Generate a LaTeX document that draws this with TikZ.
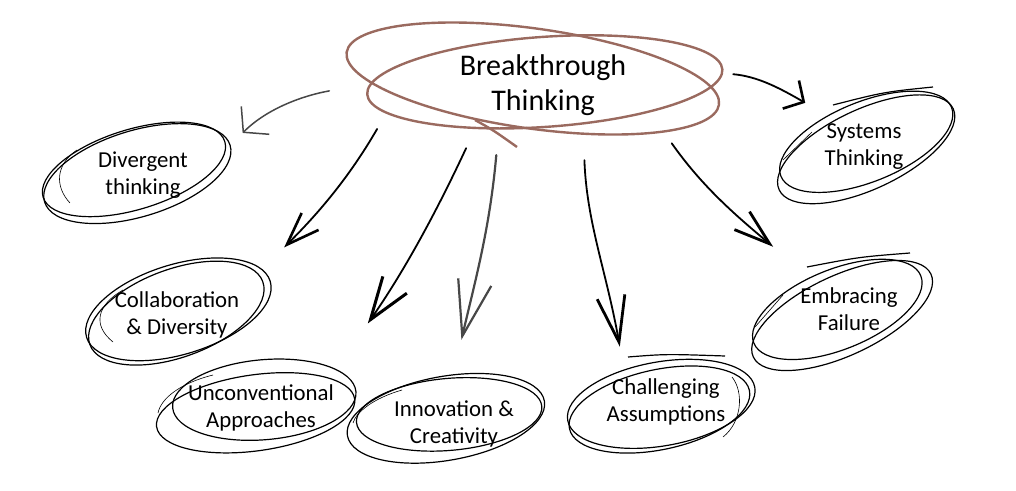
\documentclass[tikz,border=0pt]{standalone}
\usepackage{fontspec}
\setmainfont{Carlito}
\usetikzlibrary{shapes.geometric,arrows.meta}
\definecolor{rust}{HTML}{9A6A5F}
\definecolor{pencil}{HTML}{474747}
\begin{document}
\begin{tikzpicture}[x=1pt,y=1pt,
  idea/.style={ellipse,inner sep=0pt,minimum width=200pt,minimum height=90pt,align=center,font=\fontsize{22.8}{27}\selectfont},
  hub/.style={ellipse,inner sep=0pt,minimum width=360pt,minimum height=95pt,align=center,font=\fontsize{30}{35}\selectfont},
  loop/.style={line width=1.2pt},
  hair/.style={line width=.6pt},
  arr/.style={line width=1.8pt,line cap=round}]
\useasboundingbox (0,0) rectangle (1016,490);
% ideas
\node[hub] (bt) at (543,405) {Breakthrough\\Thinking};
\node[idea] (div) at (143,315) {Divergent\\thinking};
\node[idea] (col) at (177,175) {Collaboration\\\& Diversity};
\node[idea] (unc) at (261,82) {Unconventional\\Approaches};
\node[idea] (inn) at (454,66) {Innovation \&\\Creativity};
\node[idea] (cha) at (666,88) {Challenging\\Assumptions};
\node[idea] (emb) at (849,181) {Embracing\\Failure};
\node[idea] (sys) at (864,343) {Systems\\Thinking};
% scribbled loops
\draw[rust,line width=2.4pt,shift={(bt)},rotate=-8] (-11,5) ellipse[x radius=188pt,y radius=50pt];
\draw[rust,line width=2.4pt,shift={(bt)},rotate=4] (2,3) ellipse[x radius=178pt,y radius=45pt];
\draw[rust,line width=2.4pt,shift={(bt)}] (-68,-35) .. controls (-50,-45) .. (-26,-62);
\draw[loop,shift={(div)},rotate=17] (-7,8) ellipse[x radius=95pt,y radius=40pt];
\draw[loop,shift={(div)},rotate=17] (-5,3) ellipse[x radius=97pt,y radius=43pt];
\draw[hair,shift={(div)}] (-73,-28) .. controls (-88,-12) and (-88,10) .. (-66,25);
\draw[loop,shift={(col)},rotate=17] (3,5) ellipse[x radius=96pt,y radius=45pt];
\draw[loop,shift={(col)},rotate=20] (0,2) ellipse[x radius=92pt,y radius=44pt];
\draw[hair,shift={(col)}] (-64,-27) .. controls (-85,-10) and (-80,10) .. (-54,25);
\draw[loop,shift={(unc)},rotate=5] (4,8) ellipse[x radius=92pt,y radius=40pt];
\draw[loop,shift={(unc)},rotate=8] (-6,-4) ellipse[x radius=100pt,y radius=38pt];
\draw[hair,shift={(unc)}] (-48,33) .. controls (-80,25) and (-100,10) .. (-103,-5);
\draw[loop,shift={(inn)},rotate=5] (-4,10) ellipse[x radius=93pt,y radius=36pt];
\draw[loop,shift={(inn)},rotate=10] (-7,7) ellipse[x radius=100pt,y radius=42pt];
\draw[hair,shift={(inn)}] (-52,34) .. controls (-80,26) and (-98,12) .. (-101,1);
\draw[loop,shift={(cha)},rotate=10] (-5,-1) ellipse[x radius=95pt,y radius=42pt];
\draw[loop,shift={(cha)},rotate=12] (-8,-6) ellipse[x radius=92pt,y radius=40pt];
\draw[hair,shift={(cha)}] (66,25) .. controls (78,10) and (76,-20) .. (57,-35);
\draw[loop,shift={(cha)}] (-38,45) .. controls (0,48) .. (59,46);
\draw[loop,shift={(emb)},rotate=22] (-11,4) ellipse[x radius=90pt,y radius=40pt];
\draw[loop,shift={(emb)},rotate=25] (-9,-3) ellipse[x radius=98pt,y radius=40pt];
\draw[loop,shift={(emb)}] (-42,42) .. controls (10,52) .. (61,56);
\draw[hair,shift={(emb)}] (-66,14) -- (-94,-18);
\draw[loop,shift={(sys)},rotate=22] (4,4) ellipse[x radius=92pt,y radius=40pt];
\draw[loop,shift={(sys)},rotate=25] (1,-3) ellipse[x radius=96pt,y radius=40pt];
\draw[loop,shift={(sys)}] (-31,42) .. controls (20,55) .. (69,60);
\draw[hair,shift={(sys)}] (-52,15) -- (-81,-13);
% arrows
\draw[arr,pencil,line width=1.5pt,-{Straight Barb[angle=99:26pt]},shorten <=34pt,shorten >=23.6pt] (bt.180.7) to[out=190,in=45] (div.17.9);
\draw[arr,-{Straight Barb[angle=40:35pt,line width=2.6pt]},shorten <=22.5pt,shorten >=50.7pt] (bt.189.5) to[out=240,in=45] (col.24.6);
\draw[arr,-{Straight Barb[angle=38:45pt,line width=3pt]},shorten <=21pt,shorten >=63pt] (bt.213.7) to[out=245,in=55] (unc.25.6);
\draw[arr,pencil,line width=2.2pt,-{Straight Barb[angle=34:58pt]},shorten <=24pt,shorten >=40pt] (bt.226.4) to[out=265,in=77] (inn.92.5);
\draw[arr,-{Straight Barb[angle=34:48pt,line width=2.8pt]},shorten <=28.7pt,shorten >=14.8pt] (bt.311.5) to[out=272,in=100] (cha.137.7);
\draw[arr,-{Straight Barb[angle=36:38pt,line width=2.8pt]},shorten <=26pt,shorten >=35.4pt] (bt.342.2) to[out=305,in=140] (emb.141.3);
\draw[arr,-{Straight Barb[angle=95:22pt,line width=2.6pt]},shorten <=16pt,shorten >=10pt] (bt.4.1) to[out=355,in=150] (sys.142.2);
\end{tikzpicture}
\end{document}
